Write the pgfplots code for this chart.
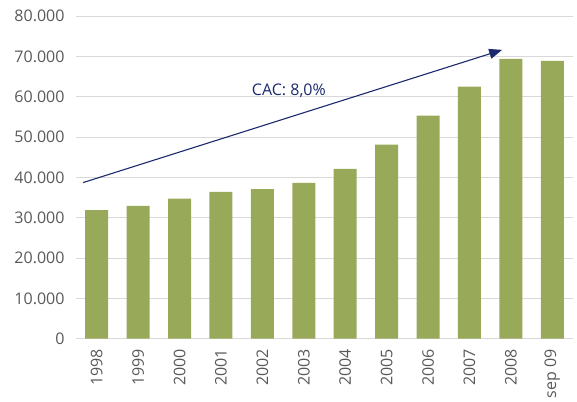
\documentclass[border=0pt]{standalone}
\usepackage{fontspec}
\setmainfont{Open Sans}
\usepackage{pgfplots}
\pgfplotsset{compat=1.18}
\usetikzlibrary{arrows.meta}
\definecolor{barc}{HTML}{99A95A}
\definecolor{labc}{HTML}{595959}
\definecolor{navy}{HTML}{1B2A6E}
\definecolor{gridc}{HTML}{D9D9D9}
\begin{document}
\begin{tikzpicture}
\useasboundingbox (0,0) rectangle (577pt,401pt);
\begin{axis}[
  at={(76pt,62.3pt)}, anchor=south west,
  scale only axis, width=497pt, height=322.7pt,
  xmin=-0.5, xmax=11.5, ymin=0, ymax=80000,
  axis line style={draw=none},
  ymajorgrids, grid style={gridc, line width=0.8pt},
  major tick length=0pt,
  xtick={0,...,11},
  xticklabels={1998,1999,2000,2001,2002,2003,2004,2005,2006,2007,2008,sep 09},
  ytick={0,10000,...,80000},
  /pgf/number format/.cd, 1000 sep={.}, assume math mode=true,
  /pgfplots/.cd,
  scaled y ticks=false,
  tick label style={font=\fontsize{16}{18}\selectfont, text=labc},
  yticklabel style={xshift=-8pt},
  xticklabel style={rotate=90, anchor=east},
  xticklabel shift={7pt},
  clip=false,
]
\addplot[ybar, bar width=23pt, fill=barc, draw=none] coordinates {
 (0,31900) (1,32900) (2,34700) (3,36400) (4,37100) (5,38600)
 (6,42100) (7,48100) (8,55300) (9,62500) (10,69400) (11,68900)};
\draw[navy, line width=1.1pt, -{Triangle[length=13pt,width=10pt]}] (axis cs:-0.33,38700) -- (axis cs:9.79,71600);
\node[text=navy, font=\fontsize{16}{18}\selectfont] at (axis cs:4.64,61500) {CAC: 8,0\%};
\end{axis}
\end{tikzpicture}
\end{document}
